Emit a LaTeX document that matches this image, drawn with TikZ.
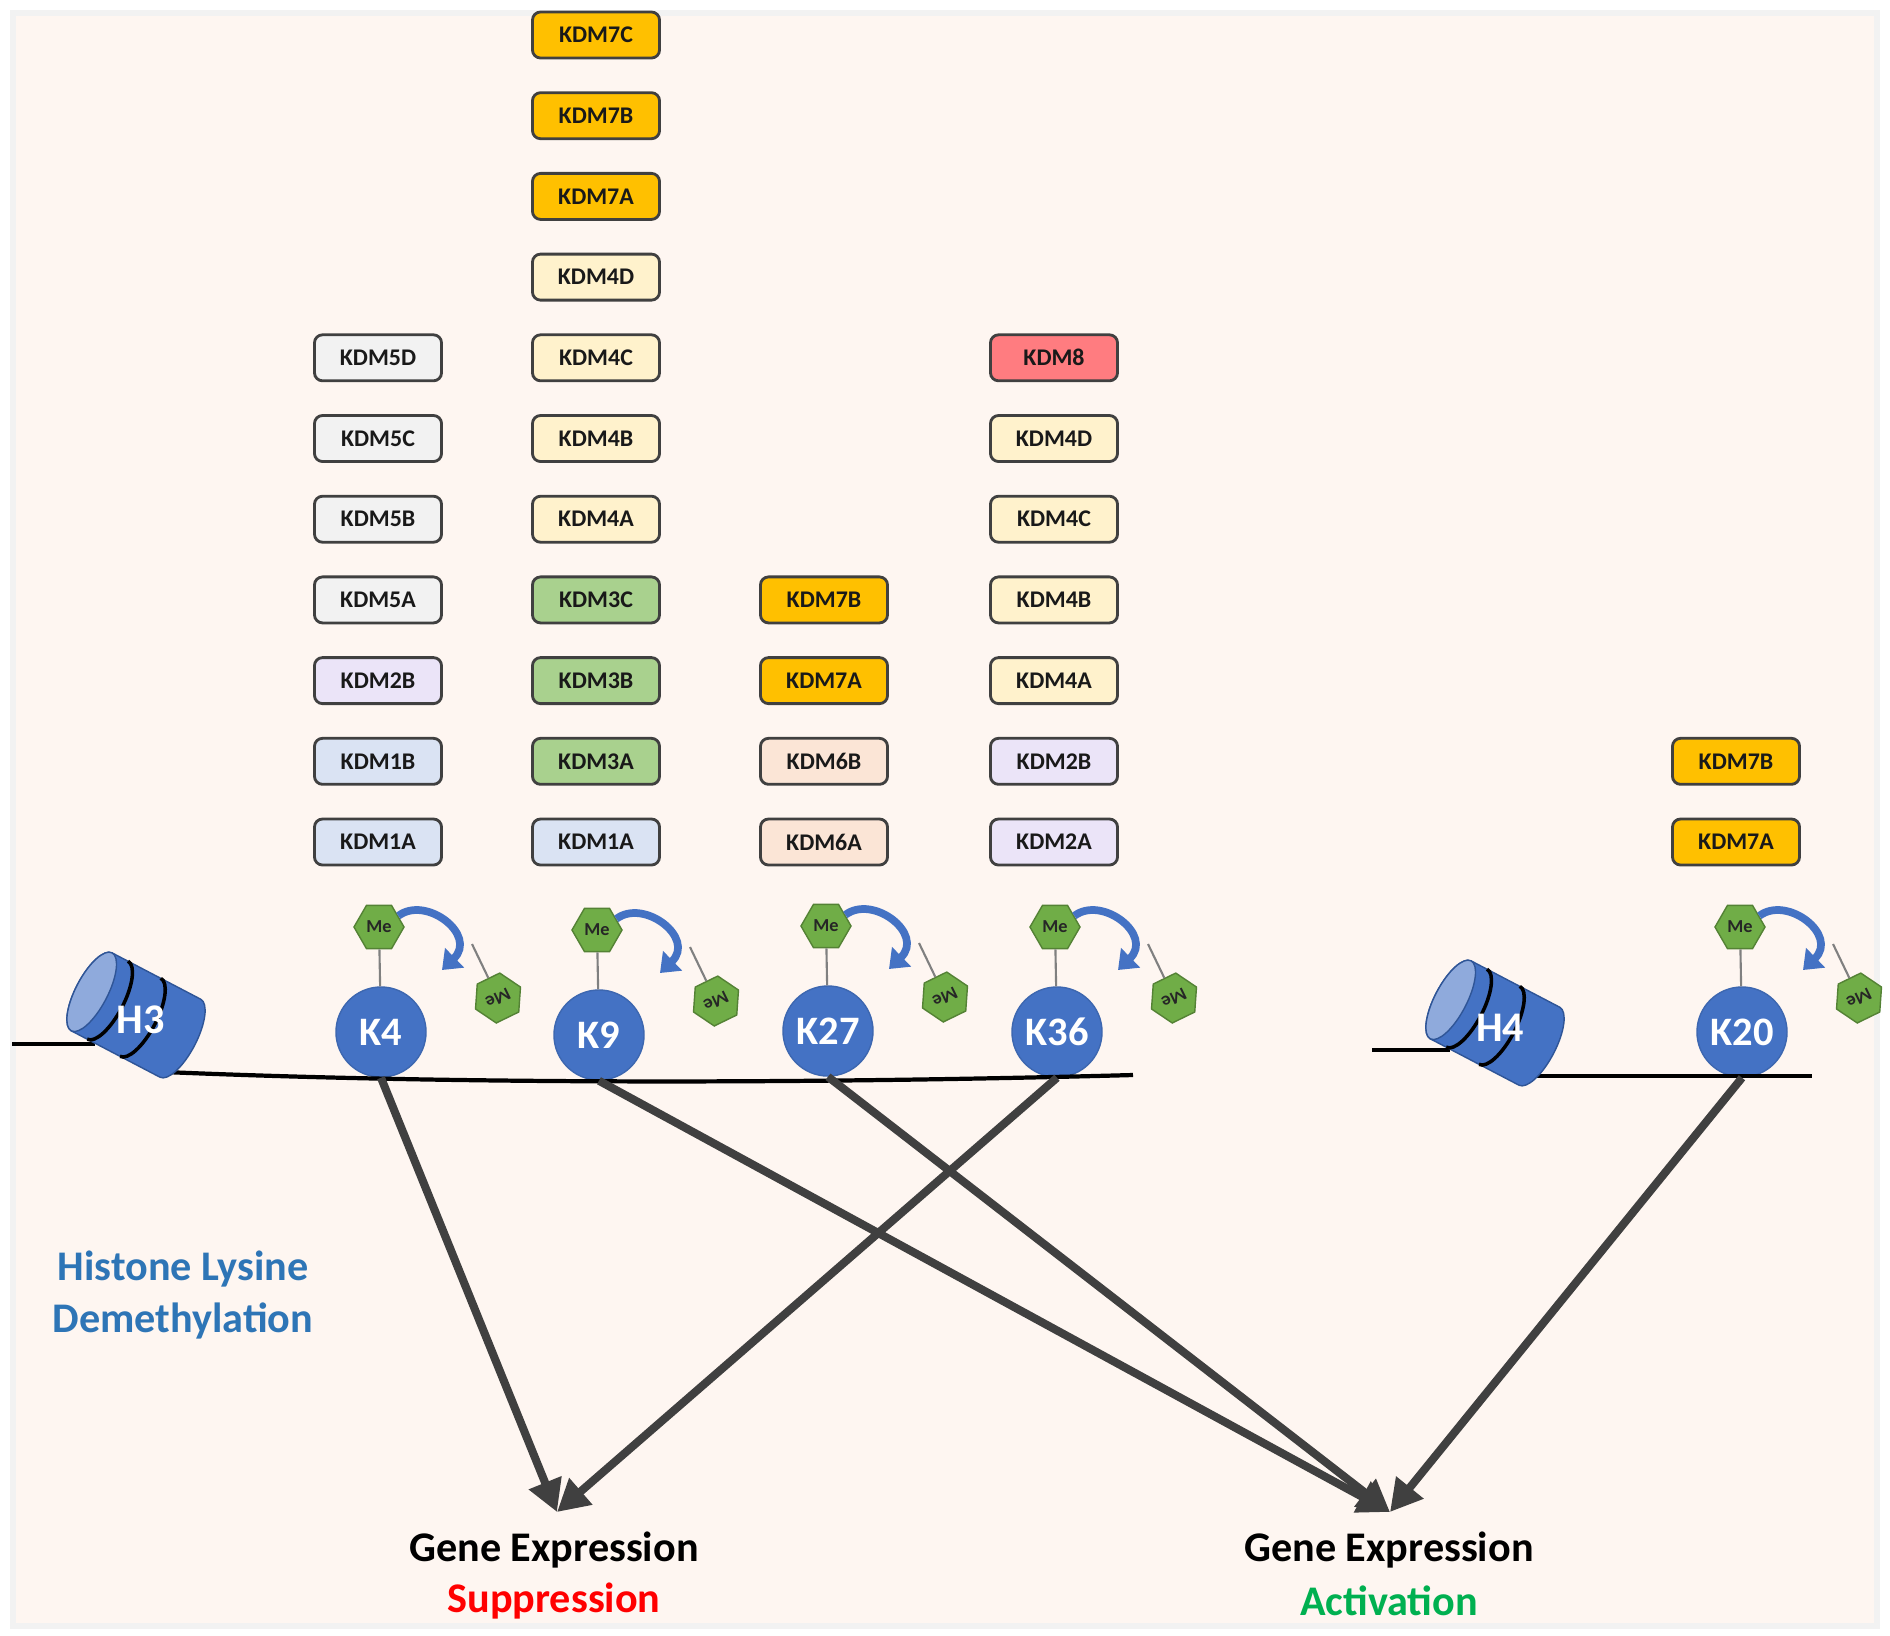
\documentclass[tikz,border=0pt]{standalone}
\usepackage{fontspec}
\setmainfont{Carlito}
\usepackage{tikz}
\usetikzlibrary{shapes.geometric}
\usetikzlibrary{arrows.meta}
\usetikzlibrary{positioning}
\definecolor{paper}{RGB}{254, 246, 241}
\definecolor{boxline}{RGB}{64, 64, 64}
\definecolor{kgray}{RGB}{242, 242, 242}
\definecolor{kblue}{RGB}{218, 227, 243}
\definecolor{klav}{RGB}{235, 228, 248}
\definecolor{kyellow}{RGB}{255, 242, 204}
\definecolor{kgreen}{RGB}{169, 209, 142}
\definecolor{korange}{RGB}{255, 192, 0}
\definecolor{kpeach}{RGB}{251, 229, 214}
\definecolor{kred}{RGB}{255, 124, 128}
\definecolor{lysblue}{RGB}{68, 114, 196}
\definecolor{lysdark}{RGB}{47, 85, 151}
\definecolor{facelight}{RGB}{143, 170, 220}
\definecolor{megreen}{RGB}{112, 173, 71}
\definecolor{medark}{RGB}{84, 130, 53}
\definecolor{titleblue}{RGB}{46, 117, 182}
\definecolor{supred}{RGB}{255, 0, 0}
\definecolor{actgreen}{RGB}{0, 176, 80}
\definecolor{arrowgray}{RGB}{64, 64, 64}

\tikzset{
  kdm/.style={draw=boxline, line width=0.8pt, rounded corners=2.3pt, minimum width=1.27cm,
              minimum height=0.46cm, inner sep=0pt, text=black!90,
              font=\bfseries\fontsize{6.8}{8}\selectfont},
  lysine/.style={circle, fill=lysblue, draw=lysblue!90!black, line width=0.4pt, minimum size=0.9cm,
                 inner sep=0pt, text=white, font=\bfseries\fontsize{11.5}{12}\selectfont},
  methyl/.style={regular polygon, regular polygon sides=6, minimum size=0.5cm, inner sep=0pt,
                 fill=megreen, draw=medark, line width=0.4pt, text=black!85,
                 font=\bfseries\fontsize{5.2}{5.5}\selectfont},
  stick/.style={draw=black!50, line width=0.6pt},
  demeth/.style={draw=lysblue, line width=2.2pt, -{Triangle[length=5pt,width=7.5pt]}},
  strand/.style={draw=black, line width=1.2pt},
  effect/.style={draw=arrowgray, line width=2.3pt, -{Triangle[length=9pt,width=9.5pt]}},
  cylbody/.style={fill=lysblue, draw=lysdark, line width=0.4pt},
  cylface/.style={fill=facelight, draw=lysdark, line width=0.4pt},
  band/.style={draw=black, line width=1pt},
  histlabel/.style={text=white, font=\bfseries\fontsize{12}{12}\selectfont, inner sep=0pt},
  heading/.style={font=\bfseries\fontsize{12}{14.6}\selectfont, align=center, inner sep=0pt}
}

% histone cylinder: name, x, y
\newcommand{\histcyl}[3]{%
  \begin{scope}[shift={(#2,#3)}, rotate=-27.6]
    \filldraw[cylbody] (-50,44) -- (50,44) arc[start angle=90, end angle=-90, x radius=16, y radius=44]
        -- (-50,-44) arc[start angle=270, end angle=90, x radius=16, y radius=44] -- cycle;
    \filldraw[cylface] (-50,0) ellipse[x radius=16, y radius=44];
    \draw[band] (-32,44) arc[start angle=90, end angle=-90, x radius=16, y radius=44];
    \draw[band] (5,44) arc[start angle=90, end angle=-90, x radius=16, y radius=44];
  \end{scope}
  \node[histlabel] (#1) at (#2+5,#3+5) {#1};}

\begin{document}
\begin{tikzpicture}[x=0.01cm, y=-0.01cm]
    \useasboundingbox (0,0) rectangle (1890,1635);
    \fill[white]   (0,0) rectangle (1890,1635);
    \fill[black!5] (10,10) rectangle (1880,1629);
    \fill[paper]   (16,16) rectangle (1874,1623);

    % demethylase boxes, one column per lysine
    \foreach \lab/\k/\fc in {1A/0/kblue, 1B/1/kblue, 2B/2/klav, 5A/3/kgray, 5B/4/kgray, 5C/5/kgray, 5D/6/kgray}
        \node[kdm, fill=\fc] (k4-\lab) at (378,{842-80.7*\k}) {KDM\lab};
    \foreach \lab/\k/\fc in {1A/0/kblue, 3A/1/kgreen, 3B/2/kgreen, 3C/3/kgreen, 4A/4/kyellow, 4B/5/kyellow,
                             4C/6/kyellow, 4D/7/kyellow, 7A/8/korange, 7B/9/korange, 7C/10/korange}
        \node[kdm, fill=\fc] (k9-\lab) at (596,{842-80.7*\k}) {KDM\lab};
    \foreach \lab/\k/\fc in {6A/0/kpeach, 6B/1/kpeach, 7A/2/korange, 7B/3/korange}
        \node[kdm, fill=\fc] (k27-\lab) at (824,{842-80.7*\k}) {KDM\lab};
    \foreach \lab/\k/\fc in {2A/0/klav, 2B/1/klav, 4A/2/kyellow, 4B/3/kyellow, 4C/4/kyellow, 4D/5/kyellow, 8/6/kred}
        \node[kdm, fill=\fc] (k36-\lab) at (1054,{842-80.7*\k}) {KDM\lab};
    \foreach \lab/\k/\fc in {7A/0/korange, 7B/1/korange}
        \node[kdm, fill=\fc] (k20-\lab) at (1736,{842-80.7*\k}) {KDM\lab};

    % lysines with the methyl group taken off
    \foreach \s/\x/\y in {K4/381/1032, K9/599/1035, K27/828/1031, K36/1057/1032, K20/1742/1032}{
        \node[lysine] (\s) at (\x,\y) {\s};
        \node[methyl] (me\s) at (\x-2,\y-105) {Me};
        \draw[stick] (me\s) -- (\s);
        \coordinate (tip\s) at (\x+61,\y-62);
        \draw[demeth] (me\s.30) .. controls (\x+45,\y-137) and (\x+97,\y-97) .. (tip\s);
        \node[methyl, rotate=206] (off\s) at (\x+117,\y-34) {Me};
        \coordinate (stub\s) at (\x+91,\y-88);
        \draw[stick] (off\s) -- (stub\s);
    }

    % DNA strands and histones
    \draw[strand] (12,1044) -- (95,1044);
    \draw[strand] (165,1072) .. controls (450,1084) and (800,1084) .. (1133,1075);
    \draw[strand] (1372,1050) -- (1450,1050);
    \draw[strand] (1525,1076) -- (1812,1076);
    \histcyl{H3}{136}{1015}
    \histcyl{H4}{1495}{1023}

    % outcome labels
    \node[heading, text=titleblue] (hld) at (183,1295) {Histone Lysine\\Demethylation};
    \node[heading] (gsupp) at (554,1550) {Gene Expression};
    \node[heading, text=supred, on grid, below=0.51cm of gsupp] (supp) {Suppression};
    \node[heading] (gact) at (1389,1550) {Gene Expression};
    \node[heading, text=actgreen, on grid, below=0.51cm of gact] (act) {Activation};
    \coordinate (supptip) at (557,1512);
    \coordinate (acttip) at (1390,1512);

    \foreach \s/\t in {K4/supptip, K36/supptip, K9/acttip, K27/acttip, K20/acttip}
        \draw[effect] (\s.south) -- (\t);
\end{tikzpicture}
\end{document}
